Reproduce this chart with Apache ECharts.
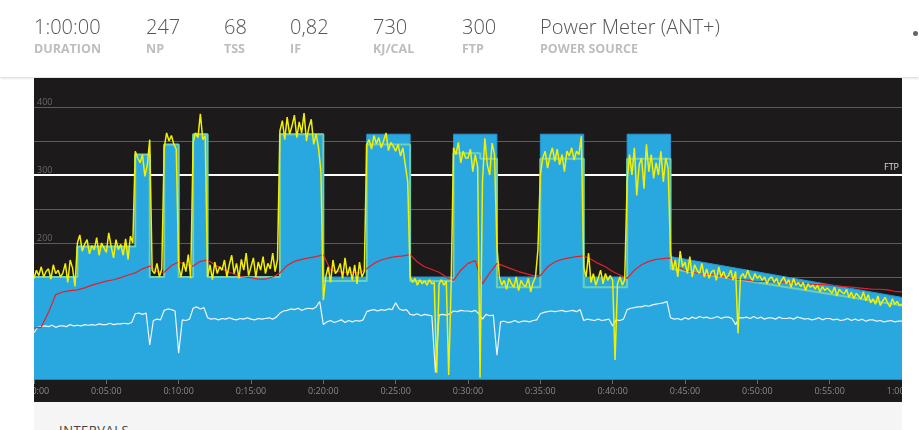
<!DOCTYPE html>
<html>
<head>
<meta charset="utf-8">
<script src="https://cdn.jsdelivr.net/npm/echarts@6/dist/echarts.min.js"></script>
<style>
  html, body { margin:0; padding:0; width:919px; height:430px; overflow:hidden; background:#fff; font-family:"Open Sans","Noto Sans",sans-serif; }
  #header { position:absolute; left:0; top:0; width:919px; height:77px; background:#fff; box-shadow:0 1px 3px rgba(0,0,0,0.18); z-index:2; }
  .stat { position:absolute; top:14px; }
  .stat .v { font-size:20px; font-weight:300; color:#555; line-height:26px; white-space:nowrap; }
  .stat .l { font-size:12.5px; font-weight:700; color:#bdbdbd; line-height:16px; margin-top:1px; white-space:nowrap; }
  #dot { position:absolute; left:913px; top:31px; width:5px; height:5px; border-radius:50%; background:#666; }
  #chart { position:absolute; left:34px; top:78px; width:868px; height:324px; background:#1c1a1b; }
  #below { position:absolute; left:34px; top:402px; width:868px; height:28px; background:#f5f5f5; overflow:hidden; }
  #below span { position:absolute; left:25px; top:21px; font-size:13px; line-height:15px; color:#444; letter-spacing:0.5px; }
</style>
</head>
<body>
<div id="header">
  <div class="stat" style="left:34px"><div class="v">1:00:00</div><div class="l">DURATION</div></div>
  <div class="stat" style="left:146px"><div class="v">247</div><div class="l">NP</div></div>
  <div class="stat" style="left:224px"><div class="v">68</div><div class="l">TSS</div></div>
  <div class="stat" style="left:290px"><div class="v">0,82</div><div class="l">IF</div></div>
  <div class="stat" style="left:373px"><div class="v">730</div><div class="l">KJ/CAL</div></div>
  <div class="stat" style="left:462px"><div class="v">300</div><div class="l">FTP</div></div>
  <div class="stat" style="left:540px"><div class="v">Power Meter (ANT+)</div><div class="l">POWER SOURCE</div></div>
  <div id="dot"></div>
</div>
<div id="chart"></div>
<div id="below"><span>INTERVALS</span></div>
<script>
// ---- data ----
const FTP = 300;
// planned workout (blue fill): polyline vertices, minutes / watts
const planTime  = [0,3,3,7,7,8,8,9,9,10,10,11,11,12,12,17,17,20,20,23,23,26,26,29,29,32,32,35,35,38,38,41,41,44,44,60];
const planWatts = [150,150,195,195,330,330,150,150,345,345,150,150,360,360,150,150,360,360,150,150,360,360,150,150,360,360,150,150,360,360,150,150,360,360,180,120];
// adjusted target (teal outline)
const targetTime  = [0,3,3,7,7,8,8,9,9,10,10,11,11,12,12,17,17,20,20,23,23,26,26,29,29,30.85,30.85,32,32,35,35,38,38,41,41,44,44,60];
const targetWatts = [150,150,195,195,330,330,150,150,345,345,150,150,360,360,150,150,360,360,144,144,345,345,144,144,332,332,324,324,135,135,324,324,135,135,324,324,162,108];
// power (W), one value every 10 s
const powerStep = 10;
const power = [
 148,160,152,165,150,158, 162,147,168,155,160,150, 156,170,142,175,163,136,
 200,212,188,198,205,184, 196,190,208,182,200,193, 186,215,195,178,205,190, 198,182,206,176,210,200,
 335,325,318,330,298,315, 352,160,155,170,150,162, 340,362,350,358,345,338, 165,150,172,158,183,148,
 348,362,355,390,352,358,
 150,168,146,172,155,165, 160,175,150,168,182,155, 170,148,176,160,185,152, 165,178,150,172,160,180, 155,170,162,185,158,176,
 365,380,352,385,360,372, 388,355,378,362,391,350, 370,382,345,360,340,305,
 116,150,165,142,175,155, 160,170,148,178,152,165, 145,168,140,172,150,158,
 345,352,338,358,346,355, 340,350,362,336,348,342, 335,345,328,340,315,290,
 150,142,148,138,146,140, 144,138,146,140,142,9, 140,146,138,144,6,138,
 340,330,348,318,335,325, 325,338,305,330,312,2, 290,354,315,300,347,330,
 195,150,138,145,132,148, 140,135,150,130,145,138, 136,148,128,142,150,190,
 300,325,335,310,328,340, 320,338,315,330,305,335, 328,340,322,335,330,357,
 165,150,185,142,155,138, 148,160,140,155,145,152, 145,28,140,150,138,146,
 290,330,300,340,270,315, 325,280,345,305,330,295, 318,300,335,290,325,310,
 185,160,175,150,188,165, 172,155,180,150,168,160, 155,170,150,162,148,158, 160,145,165,150,158,148,
 152,160,145,158,67,150, 155,148,160,150,145,155, 148,152,145,150,140,148, 150,142,148,138,145,150,
 140,146,135,148,138,142, 136,142,130,140,135,138, 132,138,128,136,130,134, 130,126,135,122,132,128,
 125,132,120,128,118,126, 122,118,128,115,124,112, 118,110,122,108,115,120, 112,106,118,110,114,108,
 110
];
// heart rate (bpm), one value every 30 s
const hrStep = 30;
const heartRate = [
 75,76,98,124,128,130,131,134,138,141,144,146,149,153,156,162,166,158,157,167,
 172,168,166,173,175,168,162,157,153,150,149,147,147,150,156,167,173,176,178,180,
 183,160,158,157,157,156,162,170,175,178,180,181,183,172,165,161,157,150,145,160,
 170,174,140,156,170,166,162,158,155,152,152,165,172,176,178,180,181,176,170,165,
 158,153,148,160,168,173,176,177,178,165,160,157,155,154,153,151,149,147,146,145,
 143,144,143,143,142,141,141,140,139,139,138,137,136,135,134,133,132,132,131,129,
 128
];
// cadence (rpm), one value every 15 s
const cadStep = 15;
const cadence = [
 68,76,77,78, 77,79,76,78, 78,77,80,78, 79,78,80,79, 80,79,81,80, 80,82,80,81, 81,82,81,83,
 96,97,95,97, 50,86,88,87, 101,103,102,100, 38,87,86,88, 104,106,103,105,
 90,88,89,87, 89,88,90,88, 87,89,88,90, 88,87,89,88, 89,90,88,91,
 97,100,101,103, 102,104,101,103, 104,103,106,114,
 80,84,86,83, 85,87,83,86, 84,86,85,87,
 99,101,102,100, 102,101,103,102, 112,103,101,102,
 95,94,96,93, 95,94,93,10, 94,95,94,96,
 100,99,101,100, 100,99,101,96, 88,95,93,94,
 35,84,85,83, 84,86,83,85, 85,84,86,87,
 96,98,99,100, 99,100,101,99, 100,101,99,102,
 86,88,87,86, 88,86,87,88, 78,87,86,88,
 102,104,105,106, 106,108,107,109, 110,111,112,114,
 90,88,89,87, 90,88,91,89, 92,90,91,89, 90,92,89,91, 91,89,80,90, 90,91,89,92,
 89,91,88,90, 90,88,91,89, 89,90,88,91, 90,88,89,87, 88,90,87,89, 89,87,88,86,
 87,89,86,88, 86,88,85,87, 87,85,86,84, 85,86,84,85,
 85
];
const xTickSeconds = 300;
const yTicks = [100, 200, 300, 400];

// ---- build ----
const toPairs = (times, vals, mult) => times.map((t, i) => [t * mult, vals[i]]);
const series = (arr, step) => arr.map((v, i) => [i * step, v]);
function fmt(s) {
  const h = Math.floor(s / 3600), m = Math.floor((s % 3600) / 60), sec = s % 60;
  return h + ':' + String(m).padStart(2, '0') + ':' + String(sec).padStart(2, '0');
}

const chart = echarts.init(document.getElementById('chart'), null, { renderer: 'canvas' });
chart.setOption({
  animation: false,
  backgroundColor: 'transparent',
  grid: { left: 0, right: 0, top: 29, bottom: 23, containLabel: false, outerBoundsMode: 'none' },
  xAxis: {
    type: 'value', min: 0, max: 3600, interval: xTickSeconds,
    axisLine: { lineStyle: { color: '#6a6a6a', width: 1 } },
    axisTick: { show: true, length: 5, lineStyle: { color: '#6a6a6a' } },
    axisLabel: { color: '#8a8a8a', fontSize: 9, margin: 8, showMinLabel: true, showMaxLabel: true,
      hideOverlap: false, fontFamily: 'Open Sans', formatter: v => fmt(v) },
    splitLine: { show: false }
  },
  yAxis: {
    type: 'value', min: 0, max: 400, interval: 50,
    axisLine: { show: false }, axisTick: { show: false },
    axisLabel: { inside: true, margin: 3, color: '#6a6a6a', fontSize: 9, verticalAlign: 'bottom',
      fontFamily: 'Open Sans', formatter: v => (yTicks.indexOf(v) >= 0 ? String(v) : '') },
    splitLine: { show: true, lineStyle: { color: '#5c5c5c', width: 1 } }
  },
  series: [
    { name: 'FTP', type: 'line', z: 1, silent: true, symbol: 'none',
      data: [[0, FTP], [3600, FTP]], lineStyle: { color: '#ffffff', width: 2 } },
    { name: 'Plan', type: 'line', z: 2, silent: true, symbol: 'none',
      data: toPairs(planTime, planWatts, 60),
      lineStyle: { color: '#2596d2', width: 1 }, areaStyle: { color: '#29a8df', opacity: 1 } },
    { name: 'Target', type: 'line', z: 3, silent: true, symbol: 'none',
      data: toPairs(targetTime, targetWatts, 60),
      lineStyle: { color: '#6fcfb2', width: 2 } },
    { name: 'Cadence', type: 'line', z: 4, silent: true, symbol: 'none',
      data: series(cadence, cadStep), lineStyle: { color: '#f4f4f4', width: 1.2 } },
    { name: 'Heart rate', type: 'line', z: 5, silent: true, symbol: 'none',
      data: series(heartRate, hrStep), lineStyle: { color: '#e3202a', width: 1.2 } },
    { name: 'Power', type: 'line', z: 6, silent: true, symbol: 'none', clip: false,
      data: series(power, powerStep), lineStyle: { color: '#f2f000', width: 1.5 } }
  ]
});
// FTP label placed through the chart's own scales
const ftpPt = chart.convertToPixel({ gridIndex: 0 }, [3600, FTP]);
chart.setOption({
  graphic: [{
    type: 'text', silent: true, z: 10,
    x: ftpPt[0] - 3, y: ftpPt[1] - 3,
    style: { text: 'FTP', fill: '#dddddd', font: '9px "Open Sans"', align: 'right', verticalAlign: 'bottom' }
  }]
});
</script>
</body>
</html>
